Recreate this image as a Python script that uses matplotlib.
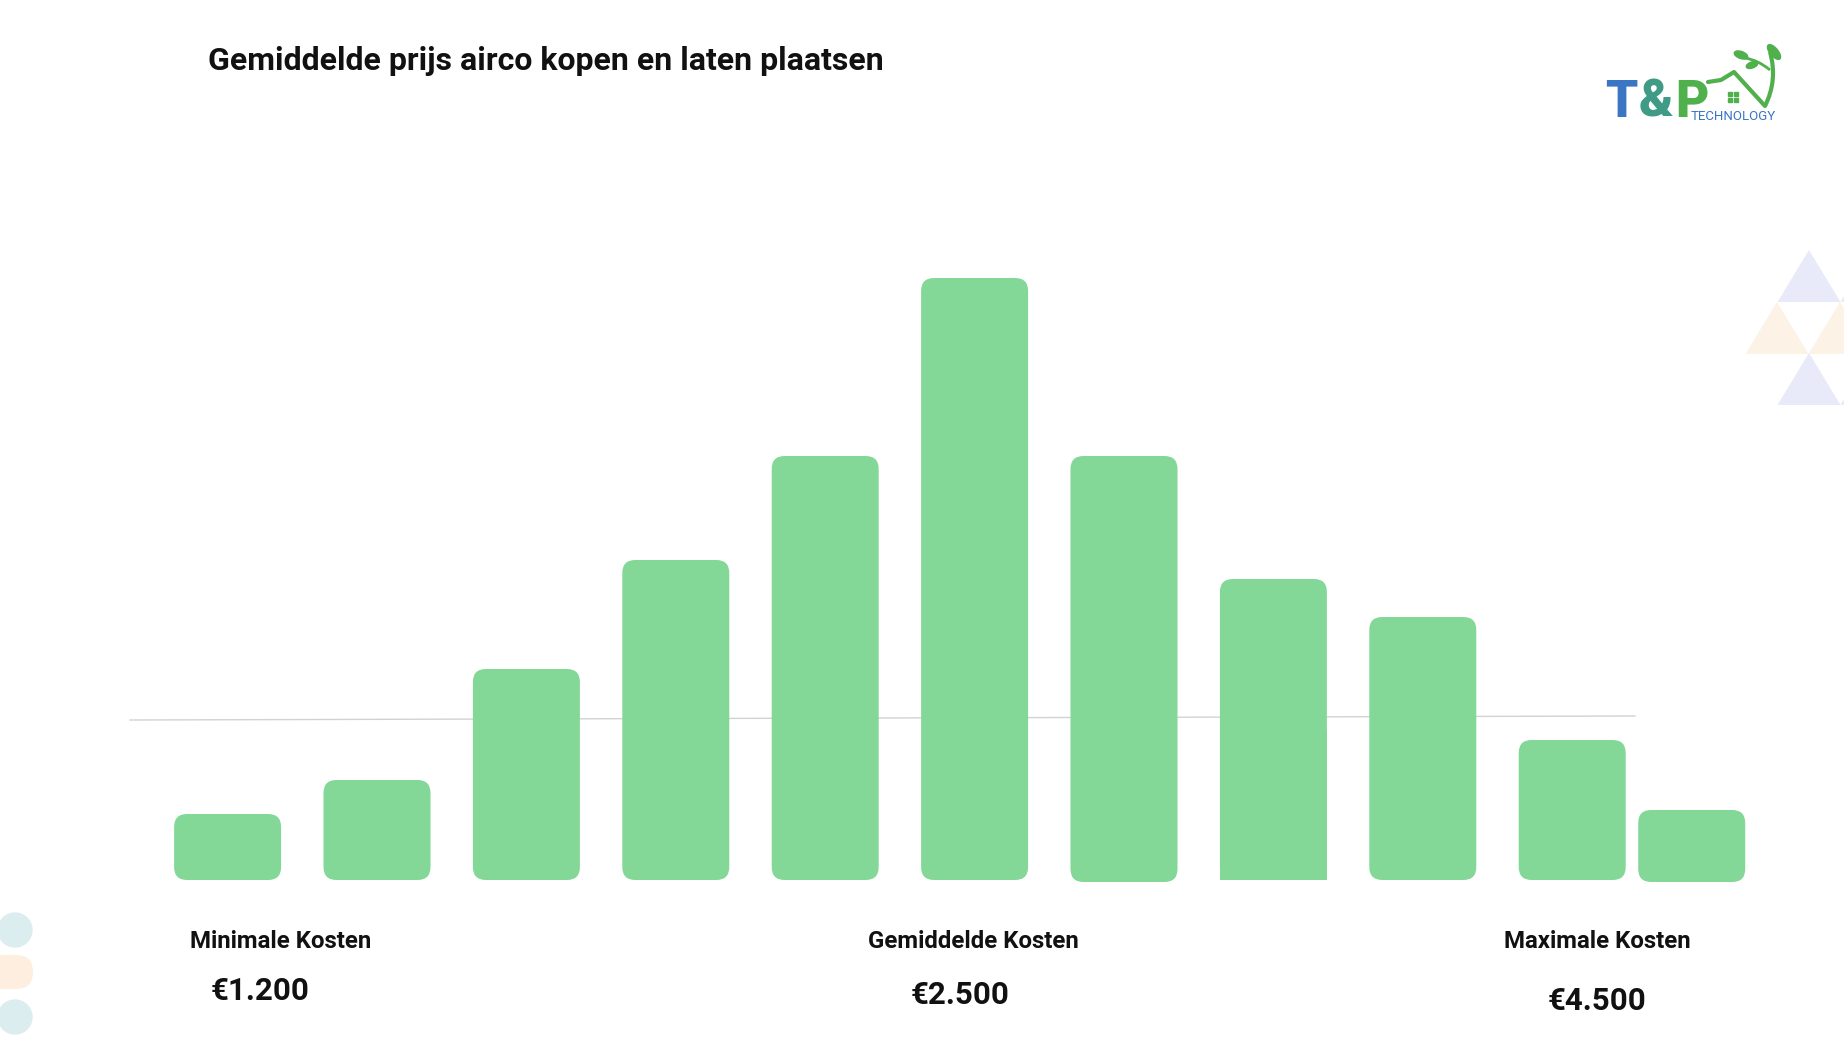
import numpy as np
import matplotlib.pyplot as plt
import matplotlib.transforms as mtransforms
from matplotlib.patches import FancyBboxPatch, Polygon, Circle, Rectangle, Ellipse, PathPatch
from matplotlib.path import Path

W, H, DPI = 1844, 1054, 100

# bar heights (no axis, relative units)
values = [66, 100, 211, 320, 424, 602, 424, 301, 263, 140, 70]
positions = list(range(10)) + [9.8]

title = 'Gemiddelde prijs airco kopen en laten plaatsen'
cost_labels = ['Minimale Kosten', 'Gemiddelde Kosten', 'Maximale Kosten']
cost_values = ['€1.200', '€2.500', '€4.500']

bar_color = '#83d897'
text_color = '#111111'

fig = plt.figure(figsize=(W / DPI, H / DPI), dpi=DPI)
ax = fig.add_axes([0, 0, 1, 1])
pitch = 149.4          # pixels per category
first = 227.6          # pixel x of first bar centre
base = 174             # pixels from bottom to the bar baseline
ax.set_xlim(-first / pitch, (W - first) / pitch)
ax.set_ylim(-base, H - base)
ax.axis('off')

# pixel coords, origin top-left, for decorations
px = mtransforms.Affine2D().scale(1 / W, -1 / H).translate(0, 1) + fig.transFigure

bars = ax.bar(positions, values, width=107 / pitch, color=bar_color)
for i, b in enumerate(bars):
    b.set_visible(False)
    x, y, w, h = b.get_x(), b.get_y(), b.get_width(), b.get_height()
    if i in (6, 10):
        y, h = y - 2, h + 2
    ax.add_patch(FancyBboxPatch((x, y), w, h,
                                boxstyle='round,pad=0,rounding_size=%f' % (13 / pitch),
                                mutation_aspect=pitch, facecolor=bar_color,
                                edgecolor='none', zorder=3))
    if i == 7:
        ax.add_patch(Rectangle((x, y), w, h / 2, facecolor=bar_color,
                               edgecolor='none', zorder=3))

# thin guide line behind the bars
ax.plot([130, 1635], [720, 716], transform=px, color='#d2d2d2', lw=1, zorder=1)

# texts
fig.text(208 / W, 1 - 61 / H, title, fontsize=23, fontweight='bold',
         family='Roboto', color=text_color, va='center', ha='left')
lab_x = [281, 973, 1597]
val_x = [260, 960, 1597]
val_y = [991, 995, 1001]
for lx, vx, vy, lab, val in zip(lab_x, val_x, val_y, cost_labels, cost_values):
    fig.text(lx / W, 1 - 941 / H, lab, fontsize=17.3, fontweight='bold',
             family='Roboto', color=text_color, ha='center', va='center')
    fig.text(vx / W, 1 - vy / H, val, fontsize=22.5, fontweight='bold',
             family='Roboto', color=text_color, ha='center', va='center')

# left decorations
ax.add_patch(Circle((15, 930), 17, transform=px, color='#dcedf0', zorder=0))
ax.add_patch(FancyBboxPatch((-40, 955), 73, 34, boxstyle='round,pad=0,rounding_size=17',
                            transform=px, facecolor='#fdeee0', edgecolor='none', zorder=0))
ax.add_patch(Circle((15, 1017), 17, transform=px, color='#dcedf0', zorder=0))

# right triangles
lav, peach = '#e9eaf9', '#fdf2e6'
side, th = 63, 52
for cx, by, col in [(1809, 302, lav), (1872, 302, lav), (1777, 354, peach),
                    (1840, 354, peach), (1809, 405, lav), (1872, 405, lav)]:
    ax.add_patch(Polygon([(cx - side / 2, by), (cx + side / 2, by), (cx, by - th)],
                         closed=True, transform=px, facecolor=col,
                         edgecolor='none', zorder=0))

# logo
blue, green = '#3a76c4', '#4fb04c'
fig.text(1621 / W, 1 - 103 / H, 'T', fontsize=37, fontweight='heavy', family='Roboto',
         color=blue, ha='center', va='center')
fig.text(1656 / W, 1 - 103 / H, '&', fontsize=37, fontweight='heavy', family='Roboto',
         color='#3f9a86', ha='center', va='center')
fig.text(1692 / W, 1 - 103 / H, 'P', fontsize=37, fontweight='heavy', family='Roboto',
         color=green, ha='center', va='center')
fig.text(1733 / W, 1 - 116 / H, 'TECHNOLOGY', fontsize=9.5, family='Roboto',
         color=blue, ha='center', va='center')
ax.plot([1708, 1721, 1734, 1765], [82, 80, 72, 106], transform=px, color=green,
        lw=3, solid_capstyle='round', solid_joinstyle='round', zorder=5)
stem = Path([(1765, 106), (1778, 80), (1770, 52)], [Path.MOVETO, Path.CURVE3, Path.CURVE3])
ax.add_patch(PathPatch(stem, transform=px, facecolor='none', edgecolor=green, lw=3, zorder=5))
branch = Path([(1770, 70), (1758, 60), (1745, 58)], [Path.MOVETO, Path.CURVE3, Path.CURVE3])
ax.add_patch(PathPatch(branch, transform=px, facecolor='none', edgecolor=green, lw=2, zorder=5))
for cx, cy, ew, eh, ang in [(1774, 52, 18, 8, 50), (1741, 55, 14, 7, 20), (1752, 65, 12, 6, -20)]:
    ax.add_patch(Ellipse((cx, cy), ew, eh, angle=ang, transform=px, color=green, zorder=5))
for wx in (1728, 1734):
    for wy in (92, 98):
        ax.add_patch(Rectangle((wx, wy), 4, 4, transform=px, color=green, zorder=5))

fig.savefig('out.png', dpi=DPI, facecolor='white')
